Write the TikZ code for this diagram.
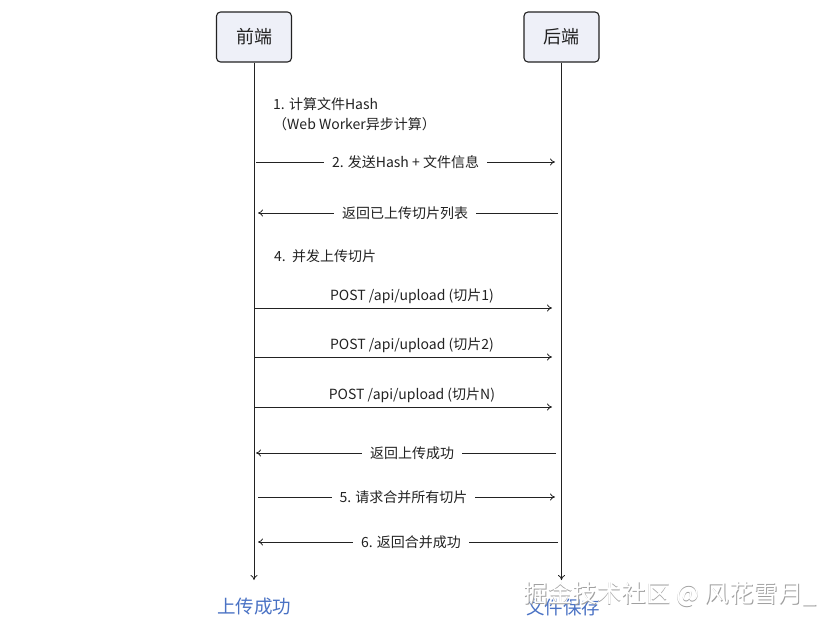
\documentclass[tikz,border=0pt]{standalone}
\usepackage{fontspec}
\setmainfont{Noto Sans CJK SC}
\usetikzlibrary{arrows.meta}
\definecolor{boxfill}{HTML}{EEF0F8}
\definecolor{linec}{HTML}{222222}
\definecolor{endblue}{HTML}{4A72C4}
\tikzset{
  actor/.style={draw=linec, line width=1.1pt, fill=boxfill, rounded corners=4pt, minimum width=75pt, minimum height=50pt, font=\fontsize{18}{20}\selectfont, text=linec},
  lifeline/.style={draw=linec, line width=0.8pt, -{To[length=5pt,width=7pt]}},
  msg/.style={draw=linec, line width=0.8pt, -{To[length=5pt,width=7pt]}},
  lbl/.style={fill=white, inner xsep=8pt, inner ysep=1pt, font=\fontsize{14}{16}\selectfont, text=linec},
  postlbl/.style={above=3pt, inner sep=1pt, font=\fontsize{14}{16}\selectfont, text=linec, pos=0.53},
  note/.style={anchor=west, inner sep=0pt, font=\fontsize{14}{20}\selectfont, text=linec, align=left},
  endlbl/.style={font=\fontsize{18.5}{20}\selectfont, text=endblue},
  wm/.style={font=\fontsize{24.5}{26}\selectfont, text=white}
}
\begin{document}
\begin{tikzpicture}[x=1pt,y=-1pt]
\useasboundingbox (0,0) rectangle (840,627);
\node[actor] (fe) at (254,37) {前端};
\node[actor] (be) at (561.5,37) {后端};
\coordinate (feend) at (254,580);
\coordinate (beend) at (561.5,580);
\draw[lifeline] (fe.south) -- (feend);
\draw[lifeline] (be.south) -- (beend);
% step 1
\node[note] (n1) at (273,114) {1. 计算文件Hash\\（Web Worker异步计算）};
% step 2
\coordinate (a2s) at (256,162); \coordinate (a2e) at (555,162);
\draw[msg] (a2s) -- node[lbl, pos=0.5] (l2) {2. 发送Hash + 文件信息} (a2e);
% step 3
\coordinate (a3s) at (558,213); \coordinate (a3e) at (258,213);
\draw[msg] (a3s) -- node[lbl, pos=0.51] (l3) {返回已上传切片列表} (a3e);
% step 4
\node[note] (n4) at (274,256) {4.\ \ 并发上传切片};
% POSTs
\coordinate (p1s) at (254,308); \coordinate (p1e) at (552,308);
\draw[msg] (p1s) -- node[postlbl] (lp1) {POST /api/upload (切片1)} (p1e);
\coordinate (p2s) at (254,357); \coordinate (p2e) at (552,357);
\draw[msg] (p2s) -- node[postlbl] (lp2) {POST /api/upload (切片2)} (p2e);
\coordinate (p3s) at (254,407); \coordinate (p3e) at (552,407);
\draw[msg] (p3s) -- node[postlbl] (lp3) {POST /api/upload (切片N)} (p3e);
% return success
\coordinate (r1s) at (556,453); \coordinate (r1e) at (256,453);
\draw[msg] (r1s) -- node[lbl, pos=0.48] (lr1) {返回上传成功} (r1e);
% step 5
\coordinate (a5s) at (258,497); \coordinate (a5e) at (555,497);
\draw[msg] (a5s) -- node[lbl, pos=0.49] (l5) {5. 请求合并所有切片} (a5e);
% step 6
\coordinate (a6s) at (558,542); \coordinate (a6e) at (258,542);
\draw[msg] (a6s) -- node[lbl, pos=0.49] (l6) {6. 返回合并成功} (a6e);
% end labels
\node[endlbl] (e1) at (254,607) {上传成功};
\node[endlbl] (e2) at (563,607) {文件保存};
% watermark
\node[wm, text=gray!75] (wmS) at (670.9,594.9) {掘金技术社区 @ 风花雪月\_};
\node[wm] (wmk) at (670,594) {掘金技术社区 @ 风花雪月\_};
\end{tikzpicture}
\end{document}
